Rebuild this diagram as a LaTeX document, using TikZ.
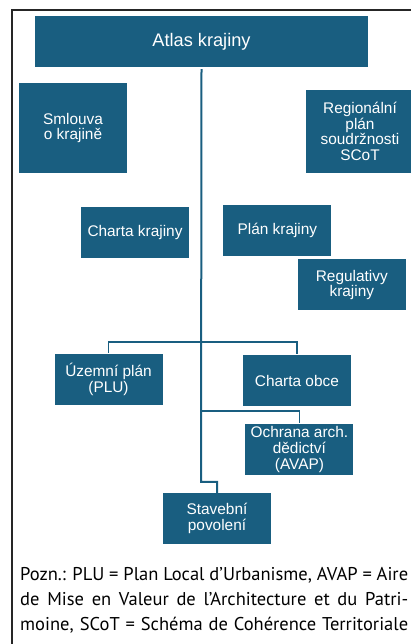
\documentclass[tikz,border=0pt]{standalone}
\usepackage{fontspec}
\newfontfamily\boxfont{Liberation Sans}
\newfontfamily\notefont{PT Sans}
\definecolor{boxblue}{RGB}{25,94,128}
\usetikzlibrary{positioning}
\tikzset{
	tile/.style  = {rectangle,fill=boxblue,text=white,
		minimum width=108pt,minimum height=51pt,inner sep=0pt,
		align=center,font=\boxfont\fontsize{15.4}{15.7}\selectfont},
	trunk/.style = {draw=boxblue,line width=2pt},
	twig/.style  = {draw=boxblue,line width=1.5pt},
	frame/.style = {draw=black!85,line width=1.2pt},
}
\begin{document}
\begin{tikzpicture}[x=1pt,y=1pt]
		\useasboundingbox (0,0) rectangle (411,644);
		\draw[frame] (411,634) -- (12,634) -- (12,0);
		
		%% Hlava
		\node (atlas) [tile,minimum width=333pt,
		font=\boxfont\fontsize{18.2}{20}\selectfont] at (201.5,602.5) {Atlas krajiny};
		\node (smlouva) [tile,minimum height=90pt] at (73,516) {Smlouva\\o krajině};
		\node (scot)    [tile,minimum height=83pt] at (360,512.5)
		{Regionální\\plán\\soudržnosti\\SCoT};
		
		%% Krajina
		\node (chartak) [tile] at (135,411.5) {Charta krajiny};
		\node (plank)   [tile,right=34pt of chartak,yshift=2pt] {Plán krajiny};
		\node (regul)   [tile,below right=3pt and -34pt of plank] {Regulativy\\krajiny};
		
		%% Obec
		\node (plu)     [tile] at (108.5,264.5) {Územní plán\\(PLU)};
		\node (obce)    [tile,right=80pt of plu,yshift=-1.5pt] {Charta obce};
		\node (avap)    [tile,below=17pt of obce,xshift=2.5pt]
		{Ochrana arch.\\dědictví\\(AVAP)};
		\node (stavba)  [tile] at (217,125.5) {Stavební\\povolení};
		
		%% Vetve
		\coordinate (fork1) at (201,302);
		\coordinate (fork2) at (201,233);
		\coordinate (fork3) at (201,162);
		\draw[trunk] ([yshift=-2pt]atlas.south) -- (fork3) -| (stavba.north);
		\draw[twig] ([yshift=1pt]plu.north) |- (fork1) -| ([yshift=1pt]obce.north);
		\draw[twig] (fork2) -| ([yshift=1pt]avap.north);
		
		%% Poznamka
		\node (note) [anchor=north west,inner sep=0pt,
		font=\notefont\fontsize{18.5}{25}\selectfont] at (20,77)
		{\parbox{388pt}{\hyphenpenalty=10000\parfillskip=0pt
			Pozn.: PLU = Plan Local d’Urbanisme, AVAP = Aire\linebreak
			de Mise en Valeur de l’Architecture et du Patri-\linebreak
			moine, SCoT = Schéma de Cohérence Territoriale}};
	\end{tikzpicture}
\end{document}
